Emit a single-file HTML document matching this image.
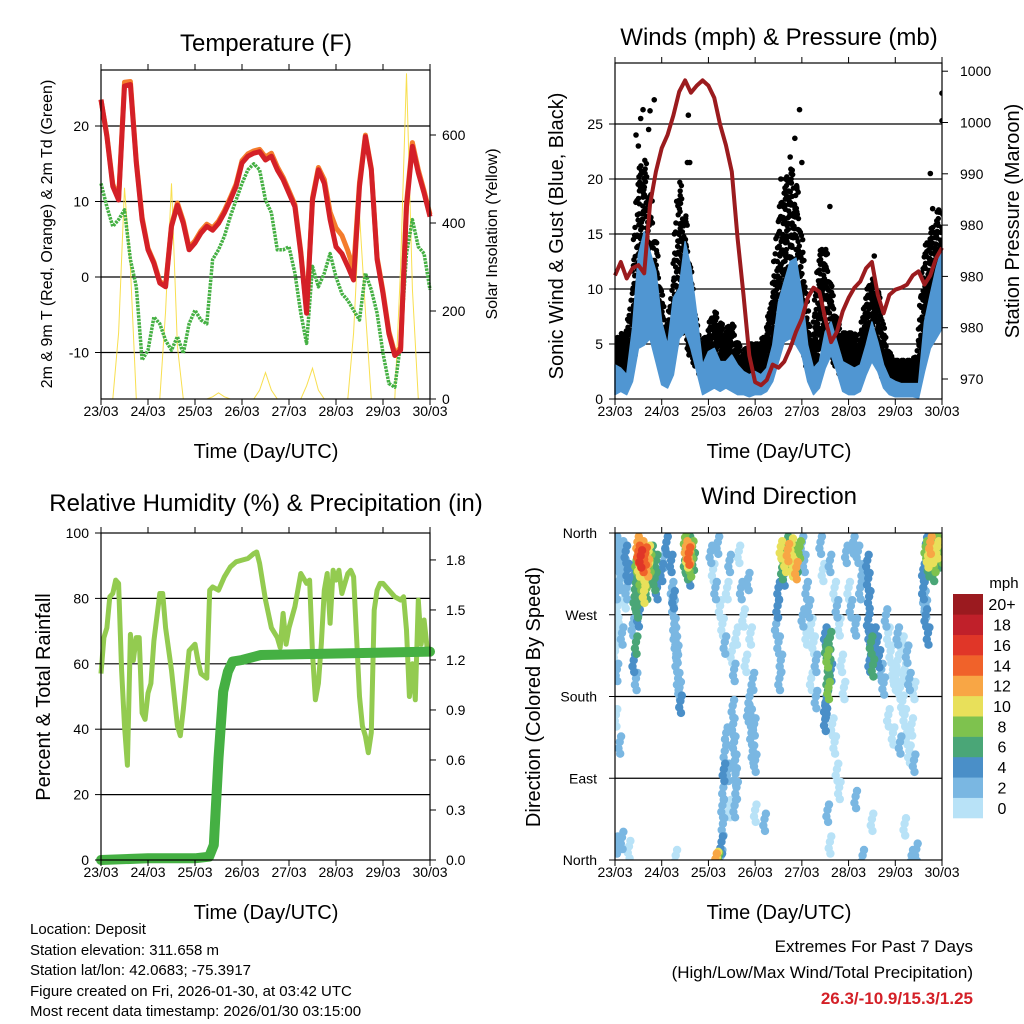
<!DOCTYPE html>
<html><head><meta charset="utf-8">
<style>
html,body{margin:0;padding:0;background:#fff;}
svg{display:block;font-family:"Liberation Sans",Arial,sans-serif;}
</style></head>
<body>
<svg id="chart" width="1024" height="1024" viewBox="0 0 1024 1024" xmlns="http://www.w3.org/2000/svg"></svg>
<script>
// ---------- DATA ----------
const days = ["23/03","24/03","25/03","26/03","27/03","28/03","29/03","30/03"];
const tempRed = [23.5,18.6,12,10.2,25.3,25.5,15.1,7.6,3.6,1.8,-0.8,-1.3,6.7,9.5,7.1,3.6,4.5,5.8,6.7,6.2,7.1,8.5,10.2,12,15.1,16,16.4,16.6,15.5,16,14.2,12.9,11.1,9.3,3.1,-4.8,10.2,14.2,12.4,7.6,4,3.1,1.4,-0.4,12,18.6,14.2,2.3,-2.2,-7.5,-10.4,-9.7,9.3,17.3,13.8,11.1,8];
const tempOrange = [23.5,18.8,12.3,10.4,25.8,25.9,15.4,7.9,3.8,2,-0.6,-1.1,6.9,9.8,7.4,3.9,4.8,6.1,7,6.5,7.4,8.8,10.5,12.3,15.4,16.3,16.7,16.9,15.9,16.4,14.6,13.2,11.4,9.6,3.4,-4.5,10.5,14.5,12.9,8.6,6.5,5.5,3.5,1,12.5,18.8,14.4,2.6,-1.9,-7.2,-10.1,-9.4,9.8,17.8,14.2,11.4,8.3];
const dewGreen = [12.4,9.3,6.7,7.6,8.9,2.3,-1.3,-11,-9.7,-5.3,-6.2,-8.4,-9.7,-7.9,-10.1,-6.2,-4.4,-5.7,-6.2,2.3,3.6,5.4,8,10.2,12.4,14.2,15,14.2,10.2,8.5,3.6,3.6,4,0.5,-4.8,-8.8,1.4,-1.3,0.5,3.1,0,-2.2,-3.1,-4.4,-5.7,0.5,-1.7,-4.8,-10.1,-14.1,-14.6,-8.8,3.1,7.6,4,3.1,-1.7];
const solar = [0,0,0,150,480,300,0,0, 0,0,0,200,490,120,0,0, 0,0,0,5,14,5,0,0, 0,0,0,20,60,20,0,0, 0,0,0,30,70,20,0,0, 0,0,0,150,420,200,0,0, 0,0,0,300,740,250,0,0, 0];
const tempTicks = [20,10,0,-10];
const solarTicks = [0,200,400,600];

const windLo = [0.4,0.7,0.4,1.6,4.6,4.9,5.5,3.4,1.3,1,2.2,5.5,6.1,4.6,2.5,0.4,0.7,1,0.7,1,0.7,0.4,0.4,0.2,0.4,0.4,0.7,1.6,3.4,5.2,5.5,4.9,4,1.6,0.4,1,2.8,4,2.5,0.7,0.4,0.4,0.7,2.2,3.4,2.5,1,0.4,0.2,0.2,0.2,0.2,0.1,2.5,4.6,5.5,6.4];
const windHi = [3.1,2.8,2.2,6.4,13.1,15.2,13.4,11.6,7,4.9,9.2,10.1,14.3,11.9,7.6,3.1,4.3,4.6,3.4,3.4,4,3.1,2.5,2.2,2.5,2.2,2.8,4.9,8.8,10.7,12.5,12.8,9.5,4.9,2.8,3.4,6.1,7,5.2,3.4,3.1,2.8,3.1,4.9,7,5.2,3.1,1.9,1.6,1.4,1.4,1.4,1.4,7,9.5,11.9,13.7];
const gustLo = [1.5,2,2,3,7,9,7,5,3,2,4,7,6,4,3,2,2,2.5,2,2,2,1.5,1,1.5,1.5,1.5,2,3,7,9,9,9,6,3,2,4,6,4,3,2,2,2,2,4,5,4,2,1.5,1.5,1.5,1.5,1.5,1.5,5,6,7,8];
const gustHi = [5,6,5.5,9,20,22,19,14,9,6,10,20,17,11,6,5,6,8,7,6,7,5,4,5,5,5,6,9,16,19,21,20,14,7,5,13,14,10,7,6,6,6,5,9,11,10,6,4,3.5,3.5,3.5,3.5,4,13,15,16,18];
const gustOutDay = [0.45,0.5,0.55,0.6,0.72,0.75,0.84,1.55,1.57,1.6,3.55,3.75,3.85,3.95,4.0,4.6,5.55,6.75,6.8,7.0,7.0];
const gustOutVal = [24,23,25.5,26.3,24.5,26.2,27.2,21.5,25.8,21.5,20,22,23.7,26.3,21.5,17.5,13,20.5,17.3,27.8,25.3];
const pressure = [980.1,981.4,979.8,980.8,981.1,980.3,987,990.2,992.5,993.8,995.7,998,999.1,997.9,998.6,999.1,998.6,997.4,994.8,992.8,990.2,983.7,978.2,972.3,969.7,969.4,969.9,971.4,971.1,971.7,973,974.6,975.9,977.9,978.9,978.5,975.9,973.6,974.6,976.6,977.9,978.9,979.5,980.8,981.4,978.2,976.4,978.2,978.7,978.9,979.2,980.1,980.5,979.2,980.1,981.8,982.8];
const windTicks = [0,5,10,15,20,25];
const pressTickVals = [970,975,980,985,990,995,1000];
const pressTickLabels = ["970","980","980","980","990","1000","1000"];

const rhDay = [0,0.0625,0.125,0.1875,0.25,0.3125,0.375,0.4375,0.5,0.5625,0.625,0.6875,0.75,0.8125,0.875,0.9375,1.0,1.0625,1.125,1.25,1.3125,1.375,1.5,1.625,1.6875,1.75,1.875,2.0,2.0625,2.125,2.25,2.3125,2.375,2.5,2.625,2.75,2.875,3.0,3.125,3.25,3.3125,3.375,3.5,3.625,3.75,3.8125,3.875,3.9375,4.0,4.125,4.25,4.375,4.4375,4.5,4.5625,4.625,4.6875,4.75,4.8125,4.875,4.9375,5.0,5.0625,5.125,5.25,5.3125,5.375,5.5,5.5625,5.625,5.6875,5.75,5.8125,5.875,5.9375,6.0,6.125,6.25,6.375,6.4375,6.5,6.5625,6.625,6.6875,6.75,6.8125,6.875,6.9375,7.0];
const rhVal = [57,68,71,80.5,81.5,85.6,84.6,58,41,29,69,61,68,68,45,43,51,54,67,81.5,81.5,71,58,41,38,46,64,66,61,57,55.6,82.5,83.5,82.5,86.6,89.6,91.2,91.7,92.2,93.7,94.2,90.7,79.5,71,68,65,75.4,66,71,77.5,87.6,84.6,85.6,63.2,49,54,66,82.5,87.6,72.4,88.6,85.6,88.6,81.5,87.6,88.6,86.6,50,41,37.9,32.8,38.9,76.4,82.5,84.6,84.6,82.5,80.5,79.5,80.5,70.3,50,60,49,79.5,66,73.4,65,63.2];
const precipDay = [0,1,2,2.3,2.4,2.5,2.6,2.7,2.8,3.0,3.4,7];
const precipVal = [0,0.01,0.01,0.02,0.09,0.61,1.01,1.13,1.19,1.2,1.23,1.25];
const rhTicks = [0,20,40,60,80,100];
const precipTicks = ["0.0","0.3","0.6","0.9","1.2","1.5","1.8"];

const dirObs = [
[0.02,350,2],[0.05,340,1],[0.08,330,2],[0.1,320,1],[0.03,300,2],[0.06,280,1],[0.12,310,3],[0.15,345,2],[0.18,335,3],[0.2,325,3],[0.22,290,1],[0.05,255,1],[0.0,230,1],[0.04,210,2],[0.15,250,2],[0.25,300,3],[0.27,320,4],[0.23,340,4],
[0.48,350,12],[0.5,340,14],[0.55,335,16],[0.6,330,15],[0.65,338,14],[0.7,325,12],[0.52,325,10],[0.58,345,12],[0.62,320,10],[0.72,340,10],[0.46,330,8],[0.5,315,6],[0.55,310,8],[0.66,312,8],[0.75,330,8],[0.8,320,7],[0.85,310,6],[0.88,330,6],[0.9,300,5],[0.45,305,7],[0.42,290,6],[0.48,280,6],[0.5,270,4],[0.42,320,5],[0.78,340,7],[0.68,300,7],[0.62,296,10],
[0.45,240,6],[0.4,220,4],[0.45,200,3],[0.38,260,3],
[1.2,330,4],[1.22,300,3],[1.25,280,3],[1.27,260,3],[1.3,240,3],[1.32,220,3],[1.35,200,3],[1.38,190,3],[1.4,175,4],[1.28,250,2],[1.33,230,2],[1.25,290,4],
[1.5,355,8],[1.52,345,12],[1.55,335,10],[1.58,350,7],[1.6,340,12],[1.62,325,8],[1.65,345,8],[1.55,322,6],[1.5,330,7],[1.68,332,6],[1.6,315,4],[1.58,338,14],
[2.05,340,2],[2.1,320,1],[2.15,300,2],[2.2,350,3],[2.25,280,1],[2.3,260,1],[2.35,240,2],[2.4,300,1],[2.45,330,2],[2.5,230,1],[2.55,210,2],[2.6,250,1],[2.65,340,1],[2.7,300,2],[2.75,270,1],[2.8,220,1],[2.85,310,2],[2.9,250,1],[2.95,200,2],
[2.52,170,3],[2.53,150,3],[2.55,130,3],[2.57,110,2],[2.58,95,3],[2.6,80,3],[2.56,60,2],[2.38,140,3],[2.35,120,2],[2.33,100,4],[2.32,80,3],[2.3,60,3],[2.31,40,3],[2.28,20,4],[2.27,5,3],[2.2,2,8],[2.18,3,10],[2.15,1,12],[2.2,0,6],[2.88,180,3],[2.9,160,3],[2.92,140,3],[2.95,120,3],[3.0,110,2],[2.85,165,2],[2.98,150,2],[2.42,100,2],[2.45,60,1],
[3.55,345,10],[3.6,338,8],[3.65,330,10],[3.7,342,12],[3.75,335,8],[3.8,325,10],[3.85,340,8],[3.9,330,6],[3.95,345,8],[3.58,322,6],[3.68,350,6],[3.78,348,10],[3.88,322,12],[3.62,315,5],[3.5,300,4],[3.48,280,4],[3.45,260,3],[3.5,240,3],[3.55,220,2],[3.52,200,2],
[4.0,350,3],[4.05,330,2],[4.1,300,2],[4.15,280,3],[4.2,260,1],[4.25,240,1],[4.3,220,2],[4.02,270,3],[4.1,250,1],[4.2,200,1],[4.3,180,2],
[4.5,250,5],[4.52,235,6],[4.55,225,8],[4.58,215,6],[4.55,200,7],[4.57,190,8],[4.53,180,5],[4.5,170,4],[4.5,155,4],[4.55,240,4],[4.6,245,6],[4.62,210,5],
[4.4,350,2],[4.45,320,1],[4.6,330,2],[4.7,300,1],[4.75,280,2],[4.8,260,1],[4.85,220,1],[4.9,190,1],[4.95,340,2],[4.65,150,1],[4.7,130,1],[4.8,80,1],[4.75,100,1],
[5.42,265,4],[5.45,250,4],[5.48,240,6],[5.5,230,5],[5.45,220,4],[5.52,215,6],[5.55,250,5],[5.6,240,4],[5.65,225,4],[5.7,210,3],[5.75,195,3],[5.4,330,4],[5.42,310,4],[5.44,290,4],[5.3,320,3],[5.25,300,3],[5.2,340,2],[5.1,350,2],[5.0,300,1],[5.05,280,2],[5.15,260,2],
[5.8,270,2],[5.85,250,1],[5.9,230,1],[5.95,210,1],[6.0,200,1],[6.05,220,1],[6.1,190,1],[6.15,175,1],[6.2,160,1],[6.25,140,1],[6.3,120,1],[6.2,210,1],[6.05,250,2],[6.15,240,1],[6.25,230,2],[6.3,200,2],[6.4,190,1],[6.35,150,1],[6.1,130,2],[5.95,140,1],[5.85,160,1],[6.4,110,2],[6.2,40,1],[6.35,5,2],[6.45,12,2],[5.3,5,2],[5.5,45,1],[5.15,70,2],[4.55,55,2],[4.6,20,1],[3.0,55,1],[3.2,45,2],
[6.65,345,8],[6.7,335,10],[6.75,350,12],[6.8,340,10],[6.85,330,8],[6.9,345,10],[6.95,335,6],[7.0,340,8],[6.72,325,6],[6.82,320,6],[6.68,355,4],[6.88,350,8],[6.6,320,4],[6.6,300,4],[6.62,290,3],[6.65,280,3],[6.7,250,4],[6.65,270,4],
[0.02,160,1],[0.1,130,2],[0.03,20,2],[0.15,25,3],[0.3,15,1],[1.3,5,1],[1.05,335,2],[1.1,350,4],[1.0,320,4]
];
const dirTicks = ["North","East","South","West","North"];
const speedLabels = ["0","2","4","6","8","10","12","14","16","18","20+"];
const speedColors = ["#b8e2f7","#7ab7e2","#4a8fc8","#4aa677","#7ec24e","#e8e05a","#f8a645","#f0622a","#e03628","#c0202a","#9b1a1f"];

// ---------- HELPERS ----------
const NS = "http://www.w3.org/2000/svg";
const svg = document.getElementById("chart");
function mk(tag, attrs, parent){
  const e = document.createElementNS(NS, tag);
  for (const k in attrs) e.setAttribute(k, attrs[k]);
  (parent||svg).appendChild(e);
  return e;
}
function txt(s, x, y, size, anchor, parent, extra){
  const t = mk("text", Object.assign({x:x, y:y, "font-size":size, "text-anchor":anchor||"middle", fill:"#000"}, extra||{}), parent);
  t.textContent = s;
  return t;
}
function interp(arr, t, step){ const i = Math.min(Math.floor(t/step), arr.length-2); const f = t/step - i; return arr[i]*(1-f)+arr[i+1]*f; }

// ---------- PANEL 1: TEMPERATURE ----------
(function(){
  const L=101,R=430,T=70,B=399;
  const x = d => L + d*(R-L)/7;
  const yT = v => 277 - v*7.55;
  const yS = v => 399 - v*0.44;
  const g = mk("g",{});
  
  
  tempTicks.forEach(v=>{
    const l = mk("line",{x1:L,x2:R,y1:yT(v),y2:yT(v),stroke:"#000","stroke-width":1.2},g);
    
    
  });
  const sp = solar.map((v,i)=>x(i*0.125).toFixed(1)+","+yS(v).toFixed(1)).join(" ");
  const s = mk("polyline",{points:sp,fill:"none",stroke:"#f7dc3c","stroke-width":1,opacity:0.9},g);
  
  
  const tp = arr => arr.map((v,i)=>x(i*0.125).toFixed(1)+","+yT(v).toFixed(1)).join(" ");
  const dg = mk("polyline",{points:tp(dewGreen),fill:"none",stroke:"#45b043","stroke-width":3.5,"stroke-dasharray":"2.5 1","stroke-linejoin":"round"},g);
  
  
  const o = mk("polyline",{points:tp(tempOrange),fill:"none",stroke:"#f47c2c","stroke-width":5,"stroke-linejoin":"round"},g);
  
  
  const r = mk("polyline",{points:tp(tempRed),fill:"none",stroke:"#d42027","stroke-width":5,"stroke-linejoin":"round"},g);
  
  
  const fr = mk("rect",{x:L,y:T,width:R-L,height:B-T,fill:"none",stroke:"#000","stroke-width":1.2},g);
  
  
  days.forEach((d,i)=>{
    mk("line",{x1:x(i),x2:x(i),y1:B,y2:B+6,stroke:"#000"},g);
    mk("line",{x1:x(i),x2:x(i),y1:T,y2:T-6,stroke:"#000"},g);
    const t = txt(d,x(i),B+17,14,"middle",g);
    
    
  });
  tempTicks.forEach(v=>{
    mk("line",{x1:L-6,x2:L,y1:yT(v),y2:yT(v),stroke:"#000"},g);
    const t = txt(String(v),L-12,yT(v)+5,14,"end",g);
    
    
  });
  solarTicks.forEach(v=>{
    mk("line",{x1:R,x2:R+6,y1:yS(v),y2:yS(v),stroke:"#000"},g);
    const t = txt(String(v),R+12,yS(v)+5,14,"start",g);
    
    
  });
  const ti = txt("Temperature (F)",266,51,24,"middle",g);
  
  
  const xt = txt("Time (Day/UTC)",266,458,20,"middle",g);
  
  
  const yl = txt("2m & 9m T (Red, Orange) & 2m Td (Green)",0,0,16,"middle",g,{transform:"translate(52,234) rotate(-90)"});
  
  
  const yr = txt("Solar Insolation (Yellow)",0,0,16,"middle",g,{transform:"translate(497,234) rotate(-90)"});
  
  
})();

// ---------- PANEL 2: WINDS ----------
(function(){
  const L=615,R=942,T=63,B=399;
  const x = d => L + d*(R-L)/7;
  const yW = v => 399 - v*11;
  const yP = p => 379 - (p-970)*51.3/5;
  const g = mk("g",{});
  
  
  windTicks.slice(1).forEach(v=>{
    const l = mk("line",{x1:L,x2:R,y1:yW(v),y2:yW(v),stroke:"#000","stroke-width":1.2},g);
    
    
  });
  const clip = mk("clipPath",{id:"wclip"},g);
  mk("rect",{x:L,y:T,width:R-L,height:B-T},clip);
  const dots = mk("g",{"clip-path":"url(#wclip)",fill:"#000"},g);
  
  
  for(let i=0;i<gustLo.length-1;i++){
    for(let k=0;k<10;k++){
      const t=(i+k/10)*0.125;
      const lo=interp(gustLo,t,0.125), hi=interp(gustHi,t,0.125);
      for(let j=0;j<6;j++){
        const f=((k*7+j*11)%13)/12;
        mk("circle",{cx:(x(t)+((j*3)%5)-2).toFixed(1),cy:yW(lo+f*(hi-lo)).toFixed(1),r:2.7},dots);
      }
    }
  }
  gustOutDay.forEach((d,i)=>{
    const c = mk("circle",{cx:x(d),cy:yW(gustOutVal[i]),r:2.8},dots);
    
    
  });
  const pts=[];
  windHi.forEach((v,i)=>pts.push(x(i*0.125).toFixed(1)+","+yW(v).toFixed(1)));
  for(let i=windLo.length-1;i>=0;i--) pts.push(x(i*0.125).toFixed(1)+","+yW(windLo[i]).toFixed(1));
  const band = mk("polygon",{points:pts.join(" "),fill:"#5096d2",stroke:"#5096d2","stroke-width":1.5,"stroke-linejoin":"round"},g);
  
  
  const pl = mk("polyline",{points:pressure.map((v,i)=>x(i*0.125).toFixed(1)+","+yP(v).toFixed(1)).join(" "),fill:"none",stroke:"#9b1b1e","stroke-width":4,"stroke-linejoin":"round"},g);
  
  
  const fr = mk("rect",{x:L,y:T,width:R-L,height:B-T,fill:"none",stroke:"#000","stroke-width":1.2},g);
  
  
  days.forEach((d,i)=>{
    mk("line",{x1:x(i),x2:x(i),y1:B,y2:B+6,stroke:"#000"},g);
    mk("line",{x1:x(i),x2:x(i),y1:T,y2:T-6,stroke:"#000"},g);
    const t = txt(d,x(i),B+17,14,"middle",g);
    
    
  });
  windTicks.forEach(v=>{
    mk("line",{x1:L-6,x2:L,y1:yW(v),y2:yW(v),stroke:"#000"},g);
    const t = txt(String(v),L-12,yW(v)+5,14,"end",g);
    
    
  });
  pressTickVals.forEach((v,i)=>{
    mk("line",{x1:R,x2:R+6,y1:yP(v),y2:yP(v),stroke:"#000"},g);
    const t = txt(pressTickLabels[i],R+18,yP(v)+5,14,"start",g);
    
    
  });
  const ti = txt("Winds (mph) & Pressure (mb)",779,45,24,"middle",g);
  
  
  const xt = txt("Time (Day/UTC)",779,458,20,"middle",g);
  
  
  const yl = txt("Sonic Wind & Gust (Blue, Black)",0,0,20,"middle",g,{transform:"translate(563,236) rotate(-90)"});
  
  
  const yr = txt("Station Pressure (Maroon)",0,0,20,"middle",g,{transform:"translate(1019,221) rotate(-90)"});
  
  
})();

// ---------- PANEL 3: RH & PRECIP ----------
(function(){
  const L=101,R=430,T=533,B=860;
  const x = d => L + d*(R-L)/7;
  const yR = v => 860 - v*3.27;
  const yPr = v => 860 - v*166.7;
  const g = mk("g",{});
  
  
  [20,40,60,80].forEach(v=>{
    const l = mk("line",{x1:L,x2:R,y1:yR(v),y2:yR(v),stroke:"#000","stroke-width":1.2},g);
    
    
  });
  const rh = mk("polyline",{points:rhDay.map((d,i)=>x(d).toFixed(1)+","+yR(rhVal[i]).toFixed(1)).join(" "),fill:"none",stroke:"#93cb50","stroke-width":5,"stroke-linejoin":"round"},g);
  
  
  const pr = mk("polyline",{points:precipDay.map((d,i)=>x(d).toFixed(1)+","+yPr(precipVal[i]).toFixed(1)).join(" "),fill:"none",stroke:"#45b043","stroke-width":10,"stroke-linejoin":"round","stroke-linecap":"round"},g);
  
  
  const fr = mk("rect",{x:L,y:T,width:R-L,height:B-T,fill:"none",stroke:"#000","stroke-width":1.2},g);
  
  
  days.forEach((d,i)=>{
    mk("line",{x1:x(i),x2:x(i),y1:B,y2:B+6,stroke:"#000"},g);
    mk("line",{x1:x(i),x2:x(i),y1:T,y2:T-6,stroke:"#000"},g);
    const t = txt(d,x(i),B+17,14,"middle",g);
    
    
  });
  rhTicks.forEach(v=>{
    mk("line",{x1:L-6,x2:L,y1:yR(v),y2:yR(v),stroke:"#000"},g);
    const t = txt(String(v),L-12,yR(v)+5,14,"end",g);
    
    
  });
  precipTicks.forEach(s=>{
    const v = parseFloat(s);
    mk("line",{x1:R,x2:R+6,y1:yPr(v),y2:yPr(v),stroke:"#000"},g);
    const t = txt(s,R+16,yPr(v)+5,14,"start",g);
    
    
  });
  const ti = txt("Relative Humidity (%) & Precipitation (in)",266,511,24,"middle",g);
  
  
  const xt = txt("Time (Day/UTC)",266,919,20,"middle",g);
  
  
  const yl = txt("Percent & Total Rainfall",0,0,20,"middle",g,{transform:"translate(50,697) rotate(-90)"});
  
  
})();

// ---------- PANEL 4: WIND DIRECTION ----------
(function(){
  const L=615,R=942,T=533,B=860;
  const x = d => L + d*(R-L)/7;
  const yD = v => 860 - v*327/360;
  const g = mk("g",{});
  
  
  [90,180,270].forEach(v=>{
    const l = mk("line",{x1:L,x2:R,y1:yD(v),y2:yD(v),stroke:"#000","stroke-width":1.2},g);
    
    
  });
  const clip = mk("clipPath",{id:"dclip"},g);
  mk("rect",{x:L,y:T,width:R-L,height:B-T},clip);
  const pg = mk("g",{"clip-path":"url(#dclip)"},g);
  
  
  const order = dirObs.slice().sort((a,b)=>a[2]-b[2]);
  const offs = [[0,0],[0.03,6],[-0.025,-7],[0.012,-13]];
  order.forEach(o=>{
    const bin = Math.min(10, Math.floor(o[2]/2));
    offs.forEach(of=>{
      const c = mk("circle",{cx:x(o[0]+of[0]).toFixed(1),cy:yD(o[1]+of[1]).toFixed(1),r:4.2,fill:speedColors[bin]},pg);
      
      
    });
  });
  const fr = mk("rect",{x:L,y:T,width:R-L,height:B-T,fill:"none",stroke:"#000","stroke-width":1.2},g);
  
  
  days.forEach((d,i)=>{
    mk("line",{x1:x(i),x2:x(i),y1:B,y2:B+6,stroke:"#000"},g);
    mk("line",{x1:x(i),x2:x(i),y1:T,y2:T-6,stroke:"#000"},g);
    const t = txt(d,x(i),B+17,14,"middle",g);
    
    
  });
  dirTicks.forEach((s,i)=>{
    const y = yD(i*90);
    mk("line",{x1:L-6,x2:L,y1:y,y2:y,stroke:"#000"},g);
    const t = txt(s,L-18,y+5,14,"end",g);
    
    
  });
  const ti = txt("Wind Direction",779,504,24,"middle",g);
  
  
  const xt = txt("Time (Day/UTC)",779,919,20,"middle",g);
  
  
  const yl = txt("Direction (Colored By Speed)",0,0,20,"middle",g,{transform:"translate(540,697) rotate(-90)"});
  
  
  const cb = mk("g",{},g);
  
  
  const h = (818-594)/11;
  speedColors.forEach((c,i)=>{
    const y = 818 - (i+1)*h;
    const r = mk("rect",{x:953,y:y,width:30,height:h+0.3,fill:c},cb);
    
    
    const t = txt(speedLabels[i],1002,y+h/2+6,16,"middle",cb);
    
    
  });
  const u = txt("mph",1004,588,15,"middle",cb);
  
  
})();
</script>
<div style="position:absolute;left:30px;top:920px;font:15px 'Liberation Sans',Arial,sans-serif;line-height:20.5px;color:#000;">
<div>Location: Deposit</div>
<div>Station elevation: 311.658 m</div>
<div>Station lat/lon: 42.0683; -75.3917</div>
<div>Figure created on Fri, 2026-01-30, at 03:42 UTC</div>
<div>Most recent data timestamp: 2026/01/30 03:15:00</div>
</div>
<div style="position:absolute;right:51px;top:934px;text-align:right;font:17px 'Liberation Sans',Arial,sans-serif;line-height:26px;color:#000;">
<div>Extremes For Past 7 Days</div>
<div>(High/Low/Max Wind/Total Precipitation)</div>
<div style="color:#d42027;font-weight:bold;">26.3/-10.9/15.3/1.25</div>
</div>
</body></html>
